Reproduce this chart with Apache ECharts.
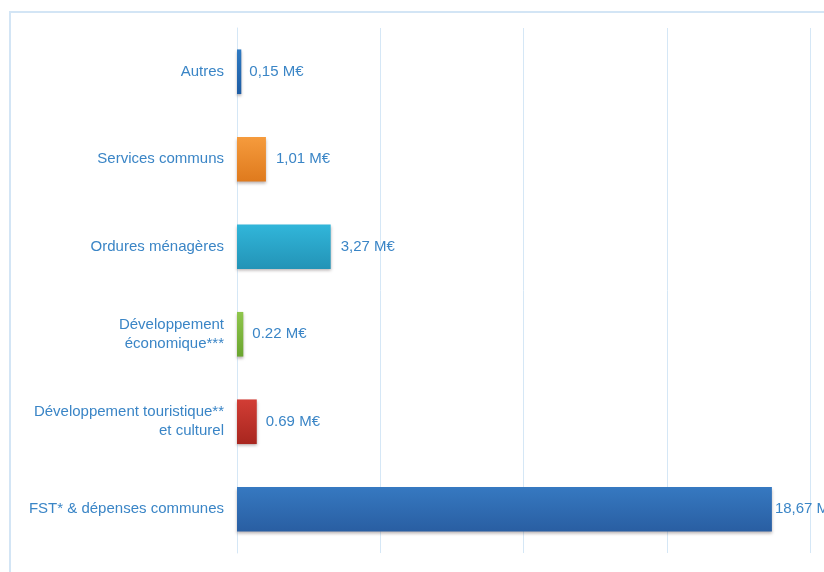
<!DOCTYPE html>
<html>
<head>
<meta charset="utf-8">
<script src="https://cdn.jsdelivr.net/npm/echarts@6/dist/echarts.min.js"></script>
<style>
  html, body { margin: 0; padding: 0; background: #ffffff; }
  #chart { width: 824px; height: 572px; }
</style>
</head>
<body>
<div id="chart"></div>
<script>
// Budget lines, top to bottom
const categories = [
  'Autres',
  'Services communs',
  'Ordures ménagères',
  'Développement\néconomique***',
  'Développement touristique**\net culturel',
  'FST* & dépenses communes'
];
// Amounts in millions of euros
const values = [0.15, 1.01, 3.27, 0.22, 0.69, 18.67];
// Printed amount labels
const valueLabels = ['0,15 M€', '1,01 M€', '3,27 M€', '0.22 M€', '0.69 M€', '18,67 M€'];
// Bar colours (top, bottom of the gradient)
const barColors = [
  ['#2f7ac2', '#1d5ca3'],
  ['#f59b3d', '#df7a1d'],
  ['#31b6da', '#2393b6'],
  ['#8fc64c', '#6aa52f'],
  ['#d23d35', '#a8261f'],
  ['#3679c1', '#295ea2']
];
// Gap between a bar end and its amount
const labelGaps = [8, 10, 10, 9, 9, 3];

const textColor = '#3a85c6';
const font = 'Liberation Sans';

const chart = echarts.init(document.getElementById('chart'), null, { renderer: 'canvas' });

chart.setOption({
  backgroundColor: '#ffffff',
  animation: false,
  grid: { left: 237, right: 14, top: 28, bottom: 19, containLabel: false },
  xAxis: {
    type: 'value',
    min: 0,
    max: 20,
    interval: 5,
    axisLabel: { show: false },
    axisLine: { show: false },
    axisTick: { show: false },
    splitLine: { show: true, lineStyle: { color: '#d5e7f6', width: 1 } }
  },
  yAxis: {
    type: 'category',
    inverse: true,
    data: categories,
    axisLine: { show: true, lineStyle: { color: '#d5e7f6', width: 1 } },
    axisTick: { show: false },
    axisLabel: {
      margin: 13,
      color: textColor,
      fontFamily: font,
      fontSize: 15,
      lineHeight: 19,
      align: 'right'
    }
  },
  series: [{
    type: 'bar',
    barWidth: '51%',
    data: values.map((v, i) => ({
      value: v,
      itemStyle: {
        color: new echarts.graphic.LinearGradient(0, 0, 0, 1, [
          { offset: 0, color: barColors[i][0] },
          { offset: 1, color: barColors[i][1] }
        ]),
        shadowColor: 'rgba(60,40,40,0.35)',
        shadowBlur: 3,
        shadowOffsetY: 2
      },
      label: { distance: labelGaps[i] }
    })),
    label: {
      show: true,
      position: 'right',
      color: textColor,
      fontFamily: font,
      fontSize: 15,
      formatter: p => valueLabels[p.dataIndex]
    }
  }],
  graphic: [
    {
      type: 'polyline',
      shape: { points: [[10, 572], [10, 12], [824, 12]] },
      style: { stroke: '#d3e5f5', lineWidth: 2, fill: null }
    }
  ]
});
</script>
</body>
</html>
